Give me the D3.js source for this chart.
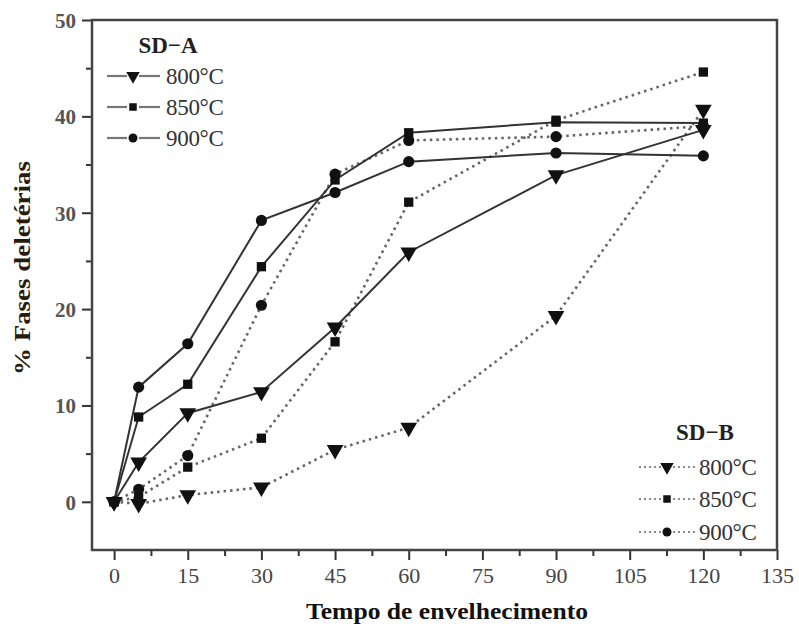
<!DOCTYPE html>
<html><head><meta charset="utf-8">
<script src="https://cdn.jsdelivr.net/npm/d3@7"></script>
<style>body{margin:0;background:#fff}</style>
</head><body><svg id="c" width="799" height="630"></svg>
<script>
const times = [0, 5, 15, 30, 45, 60, 90, 120];
const temps = ["800°C", "850°C", "900°C"];
const sdA800 = [0, 4.1, 9.2, 11.4, 18.1, 25.9, 33.9, 38.6];
const sdA850 = [0, 8.8, 12.2, 24.4, 33.4, 38.3, 39.4, 39.3];
const sdA900 = [0, 11.9, 16.4, 29.2, 32.1, 35.3, 36.2, 35.9];
const sdB800 = [0, -0.2, 0.7, 1.5, 5.4, 7.7, 19.3, 40.7];
const sdB850 = [0, 0.5, 3.6, 6.6, 16.6, 31.1, 39.6, 44.6];
const sdB900 = [0, 1.3, 4.8, 20.4, 34.0, 37.5, 37.9, 39.0];
const xTicks = [0, 15, 30, 45, 60, 75, 90, 105, 120, 135];
const xMinor = [7.5, 22.5, 37.5, 52.5, 67.5, 82.5, 97.5, 112.5, 127.5];
const yTicks = [0, 10, 20, 30, 40, 50];
const yMinor = [5, 15, 25, 35, 45];
const markers = ["tri", "sq", "circ"];

const svg = d3.select("#c");
const L = 92, R = 777, T = 20, B = 550;
const x = d3.scaleLinear().domain([-4.5, 135]).range([L, R]);
const y = d3.scaleLinear().domain([-5, 50]).range([B, T]);
const serif = "'Liberation Serif','Times New Roman',serif";

function sym(kind, size) {
  if (kind === "tri") return d3.symbol().type(d3.symbolTriangle).size(size * 1.05)();
  if (kind === "sq") return d3.symbol().type(d3.symbolSquare).size(size * 0.75)();
  return d3.symbol().type(d3.symbolCircle).size(size * 0.85)();
}
function addMarker(g, kind, cx, cy, size) {
  g.append("path").attr("d", sym(kind, size))
    .attr("transform", `translate(${cx},${cy})` + (kind === "tri" ? " rotate(180)" : ""))
    .attr("fill", "#111");
}

// axes
const xAxis = d3.axisBottom(x).tickValues(xTicks).tickSize(10).tickPadding(7).tickFormat(d3.format("d"));
const gx = svg.append("g").attr("transform", `translate(0,${B})`).call(xAxis);
const xMinorAxis = d3.axisBottom(x).tickValues(xMinor).tickSize(6).tickFormat("");
svg.append("g").attr("transform", `translate(0,${B})`).call(xMinorAxis);
const yAxis = d3.axisLeft(y).tickValues(yTicks).tickSize(10).tickPadding(6).tickFormat(d3.format("d"));
const gy = svg.append("g").attr("transform", `translate(${L},0)`).call(yAxis);
const yMinorAxis = d3.axisLeft(y).tickValues(yMinor).tickSize(6).tickFormat("");
svg.append("g").attr("transform", `translate(${L},0)`).call(yMinorAxis);
svg.selectAll(".domain").remove();
svg.selectAll(".tick line").attr("stroke", "#333").attr("stroke-width", 2);
gx.selectAll("text").attr("font-family", serif).attr("font-size", 22).attr("fill", "#444");
gy.selectAll("text").attr("font-family", serif).attr("font-size", 21).attr("font-weight", "bold").attr("fill", "#555").attr("dy", "0.35em");

// frame
svg.append("rect").attr("x", L).attr("y", T).attr("width", R - L).attr("height", B - T)
  .attr("fill", "none").attr("stroke", "#444").attr("stroke-width", 2.5);

// series
const series = [
  {vals: sdB800, m: "tri", dotted: true},
  {vals: sdB850, m: "sq", dotted: true},
  {vals: sdB900, m: "circ", dotted: true},
  {vals: sdA800, m: "tri", dotted: false},
  {vals: sdA850, m: "sq", dotted: false},
  {vals: sdA900, m: "circ", dotted: false}
];
const line = d3.line().x((d, i) => x(times[i])).y(d => y(d));
series.forEach(s => {
  svg.append("path").datum(s.vals).attr("d", line).attr("fill", "none")
    .attr("stroke", s.dotted ? "#666" : "#333")
    .attr("stroke-width", s.dotted ? 2.6 : 2)
    .attr("stroke-dasharray", s.dotted ? "2.5,4" : null);
});
series.forEach(s => {
  const g = svg.append("g");
  s.vals.forEach((v, i) => addMarker(g, s.m, x(times[i]), y(v), 115));
});

// legends
function legend(title, tx, ty, x0, x1, mx, textX, rows, dotted) {
  svg.append("text").attr("x", tx).attr("y", ty).attr("text-anchor", "middle")
    .attr("font-family", serif).attr("font-weight", "bold").attr("font-size", 23).attr("fill", "#222")
    .text(title);
  rows.forEach((ry, i) => {
    [[x0, mx - 6], [mx + 6, x1]].forEach(([a, b]) => {
      svg.append("line").attr("x1", a).attr("x2", b).attr("y1", ry).attr("y2", ry)
        .attr("stroke", dotted ? "#888" : "#777").attr("stroke-width", dotted ? 2.2 : 2.2)
        .attr("stroke-dasharray", dotted ? "2,3" : null);
    });
    addMarker(svg, markers[i], mx, ry, 75);
    svg.append("text").attr("x", textX).attr("y", ry).attr("dy", "0.35em")
      .attr("font-family", serif).attr("font-size", 23).attr("fill", "#333")
      .attr("letter-spacing", -0.3).text(temps[i]);
  });
}
legend("SD\u2212A", 168, 53, 107, 160, 133, 166, [76, 107, 138], false);
legend("SD\u2212B", 705, 440, 639, 696, 667, 699, [467, 499, 532], true);

// axis titles
svg.append("text").attr("x", 447).attr("y", 619).attr("text-anchor", "middle")
  .attr("font-family", serif).attr("font-weight", "bold").attr("font-size", 24).attr("fill", "#111")
  .attr("textLength", 282).attr("lengthAdjust", "spacingAndGlyphs")
  .text("Tempo de envelhecimento");
svg.append("text").attr("transform", "translate(30,268) rotate(-90)").attr("text-anchor", "middle")
  .attr("font-family", serif).attr("font-weight", "bold").attr("font-size", 24).attr("fill", "#2a1a0a")
  .attr("textLength", 214).attr("lengthAdjust", "spacingAndGlyphs")
  .text("% Fases deletérias");
</script></body></html>
